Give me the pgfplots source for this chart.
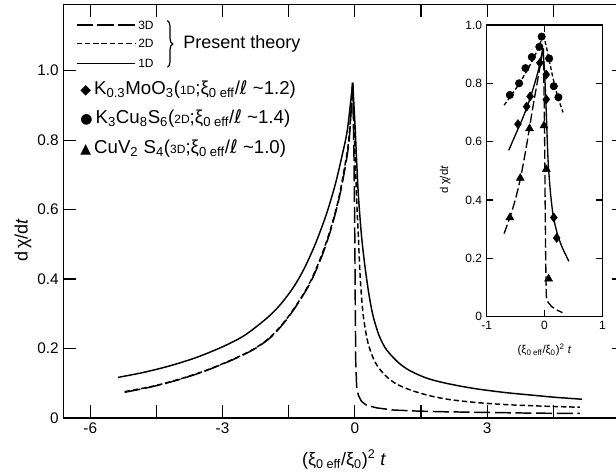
\documentclass[border=0pt]{standalone}
\usepackage{fontspec}
\setmainfont{Liberation Sans}
\newfontfamily\symfont{DejaVu Sans}
\usepackage{pgfplots}
\pgfplotsset{compat=1.18}
\usetikzlibrary{decorations.pathreplacing}

\newcommand{\xieff}{ξ\textsubscript{0 eff}}
\newcommand{\xo}{ξ\textsubscript{0}}
\newcommand{\smallD}[1]{{\fontsize{9}{10}\selectfont #1}}

\begin{document}
\begin{tikzpicture}

% ---------------- main axis ----------------
\begin{axis}[
  at={(0pt,0pt)}, anchor=south west,
  scale only axis, width=421.1pt, height=310pt,
  xmin=-6.61, xmax=6.12, ymin=0, ymax=1.19,
  xtick={-6,-4.5,-3,-1.5,0,1.5,3,4.5,6},
  xticklabels={-6,,-3,,0,,3,,6},
  ytick={0,0.2,0.4,0.6,0.8,1.0},
  yticklabels={0,0.2,0.4,0.6,0.8,1.0},
  tick style={black, line width=0.9pt},
  major tick length=9.5pt,
  axis line style={line width=1.1pt},
  tick label style={font=\fontsize{11.5}{13}\selectfont},
  xlabel={(\xieff/\xo)\textsuperscript{2} \textit{t}},
  ylabel={d\,χ/d\textit{t}},
  label style={font=\fontsize{13.5}{15}\selectfont},
  x label style={at={(axis description cs:0.50,0)}, anchor=center, yshift=-31pt},
  y label style={at={(axis description cs:-0.072,0.43)}, anchor=center},
]
% 1D solid
\addplot[black, line width=1.1pt, smooth, tension=0.5] coordinates {
(-5.37,0.117) (-4.8,0.131) (-4.2,0.150) (-3.6,0.174) (-3.0,0.205) (-2.5,0.238)
(-2.0,0.287) (-1.7,0.325) (-1.4,0.375) (-1.15,0.43) (-0.9,0.50) (-0.65,0.585)
(-0.45,0.67) (-0.3,0.75) (-0.17,0.83) (-0.05,0.965)};
\addplot[black, line width=1.1pt, smooth, tension=0.5] coordinates {
(-0.05,0.965) (0.0,0.85) (0.04,0.74) (0.08,0.64) (0.15,0.525) (0.23,0.435)
(0.32,0.355) (0.41,0.295) (0.55,0.237) (0.72,0.196) (1.0,0.158) (1.25,0.136)
(1.6,0.116) (1.93,0.104) (2.3,0.094) (2.7,0.085) (3.1,0.078) (3.5,0.072)
(4.0,0.066) (4.5,0.060) (5.15,0.054)};
% 2D short dash
\addplot[black, line width=1.1pt, dash pattern=on 4pt off 2.2pt, smooth, tension=0.5] coordinates {
(-5.22,0.076) (-4.6,0.091) (-4.0,0.111) (-3.4,0.136) (-2.8,0.167) (-2.3,0.198)
(-1.9,0.235) (-1.55,0.285) (-1.25,0.34) (-1.0,0.395) (-0.75,0.47) (-0.55,0.545)
(-0.38,0.625) (-0.25,0.71) (-0.14,0.80) (-0.05,0.965)};
\addplot[black, line width=1.1pt, dash pattern=on 4pt off 2.2pt, smooth, tension=0.5] coordinates {
(-0.05,0.965) (-0.01,0.80) (0.02,0.70) (0.05,0.60) (0.08,0.52) (0.11,0.43)
(0.15,0.35) (0.2,0.285) (0.3,0.215) (0.45,0.163) (0.64,0.129) (0.9,0.101)
(1.25,0.081) (1.7,0.064) (2.15,0.053) (2.8,0.044) (3.5,0.038) (4.3,0.034) (5.1,0.031)};
% 3D long dash
\addplot[black, line width=1.1pt, dash pattern=on 12pt off 3.5pt, smooth, tension=0.5] coordinates {
(-5.22,0.074) (-4.6,0.090) (-4.0,0.110) (-3.4,0.135) (-2.8,0.166) (-2.3,0.197)
(-1.9,0.233) (-1.55,0.283) (-1.25,0.338) (-1.0,0.392) (-0.75,0.465) (-0.55,0.54)
(-0.38,0.62) (-0.25,0.70) (-0.13,0.80) (-0.05,0.965)};
\addplot[black, line width=1.1pt, dash pattern=on 12pt off 3.5pt] coordinates {
(-0.05,0.965) (-0.02,0.75) (0.0,0.5) (0.01,0.3) (0.02,0.16) (0.04,0.09)
(0.08,0.065) (0.15,0.048) (0.26,0.037) (0.5,0.029) (0.87,0.023) (1.4,0.020)
(2.0,0.018) (3.0,0.016) (4.0,0.014) (5.1,0.013)};
\end{axis}

% ---------------- legend ----------------
\draw[line width=1.1pt, dash pattern=on 12.5pt off 3pt] (10pt,294.75pt) -- (54pt,294.75pt);
\draw[line width=1.1pt, dash pattern=on 4pt off 2.2pt] (10pt,281pt) -- (54pt,281pt);
\draw[line width=1.1pt] (10pt,266pt) -- (54pt,266pt);
\node[anchor=west, inner sep=1pt, font=\fontsize{9}{10}\selectfont] at (55pt,294.75pt) {3D};
\node[anchor=west, inner sep=1pt, font=\fontsize{9}{10}\selectfont] at (55pt,281pt) {2D};
\node[anchor=west, inner sep=1pt, font=\fontsize{9}{10}\selectfont] at (55pt,266pt) {1D};
\draw[line width=0.9pt, decorate, decoration={brace, amplitude=4pt}] (78pt,298pt) -- (78pt,263pt);
\node[anchor=west, inner sep=0pt, font=\fontsize{13.5}{15}\selectfont] at (89.8pt,280.3pt) {Present theory};

\node[anchor=west, inner sep=0pt, font=\fontsize{14}{16}\selectfont] at (12.5pt,246.5pt)
  {{\symfont\fontsize{10.5}{12}\selectfont ◆}\,K\textsubscript{0.3}MoO\textsubscript{3}(\smallD{1D};\xieff/{\symfont ℓ} \textasciitilde 1.2)};
\node[anchor=west, inner sep=0pt, font=\fontsize{14}{16}\selectfont] at (12.5pt,224.8pt)
  {{\symfont\fontsize{10.5}{12}\selectfont ●}\,K\textsubscript{3}Cu\textsubscript{8}S\textsubscript{6}(\smallD{2D};\xieff/{\symfont ℓ} \textasciitilde 1.4)};
\node[anchor=west, inner sep=0pt, font=\fontsize{14}{16}\selectfont] at (12.5pt,202.3pt)
  {{\symfont\fontsize{10.5}{12}\selectfont ▲}\,CuV\textsubscript{2} S\textsubscript{4}(\smallD{3D};\xieff/{\symfont ℓ} \textasciitilde 1.0)};

% ---------------- inset ----------------
\begin{axis}[
  at={(317.55pt,75.98pt)}, anchor=south west,
  scale only axis, width=86.7pt, height=218.8pt,
  xmin=-1, xmax=1, ymin=0, ymax=1.0,
  xtick={-1,0,1}, xticklabels={-1,0,1},
  ytick={0,0.2,0.4,0.6,0.8,1.0},
  yticklabels={0,0.2,0.4,0.6,0.8,1.0},
  axis background/.style={fill=white},
  tick style={black, line width=0.8pt},
  major tick length=5pt,
  axis line style={line width=1pt},
  tick label style={font=\fontsize{9}{10}\selectfont},
  xlabel={(\xieff/\xo)\textsuperscript{2} \textit{t}},
  ylabel={d\,χ/d\textit{t}},
  label style={font=\fontsize{8.5}{10}\selectfont},
  x label style={at={(axis description cs:0.5,0)}, anchor=center, yshift=-25pt},
  y label style={at={(axis description cs:-0.36,0.47)}, anchor=center},
]
% 2D short dash
\addplot[black, line width=1pt, dash pattern=on 3pt off 1.8pt, smooth, tension=0.5] coordinates {
(-0.70,0.725) (-0.6,0.752) (-0.45,0.795) (-0.3,0.845) (-0.18,0.89) (-0.09,0.93) (-0.03,0.965)};
\addplot[black, line width=1pt, dash pattern=on 3pt off 1.8pt, smooth, tension=0.5] coordinates {
(-0.03,0.965) (0.02,0.935) (0.08,0.88) (0.15,0.815) (0.22,0.76) (0.32,0.70)};
% 1D solid
\addplot[black, line width=1pt, smooth, tension=0.5] coordinates {
(-0.62,0.57) (-0.5,0.625) (-0.4,0.67) (-0.3,0.72) (-0.2,0.78) (-0.1,0.85) (-0.03,0.92)};
\addplot[black, line width=1pt, smooth, tension=0.4] coordinates {
(-0.03,0.92) (0.0,0.84) (0.03,0.70) (0.06,0.54) (0.1,0.43) (0.15,0.345) (0.22,0.285) (0.3,0.24) (0.42,0.19)};
% 3D long dash
\addplot[black, line width=1pt, dash pattern=on 7pt off 2.5pt, smooth, tension=0.5] coordinates {
(-0.70,0.285) (-0.6,0.34) (-0.5,0.405) (-0.4,0.49) (-0.3,0.60) (-0.2,0.72) (-0.12,0.81) (-0.05,0.89) (-0.02,0.92)};
\addplot[black, line width=1pt, dash pattern=on 7pt off 2.5pt] coordinates {
(-0.02,0.92) (0.0,0.65) (0.01,0.4) (0.02,0.2) (0.03,0.07) (0.06,0.05) (0.12,0.035) (0.2,0.024) (0.31,0.014)};
% data
\addplot[only marks, black, mark=diamond*, mark size=3.4pt] coordinates {
(-0.46,0.66) (-0.31,0.72) (-0.25,0.755) (-0.08,0.87) (0.03,0.83) (0.03,0.745) (0.16,0.34) (0.21,0.27)};
\addplot[only marks, black, mark=*, mark size=2.8pt] coordinates {
(-0.60,0.76) (-0.44,0.80) (-0.33,0.852) (-0.22,0.89) (-0.09,0.925) (-0.05,0.96) (0.08,0.885) (0.16,0.79) (0.24,0.752)};
\addplot[only marks, black, mark=triangle*, mark size=3.4pt] coordinates {
(-0.60,0.34) (-0.42,0.475) (-0.26,0.645) (-0.01,0.655) (0.03,0.505) (0.07,0.13)};
\end{axis}

\pgfresetboundingbox
\path[use as bounding box] (-47.5pt,-41.25pt) rectangle (414.5pt,313.5pt);
\end{tikzpicture}
\end{document}
